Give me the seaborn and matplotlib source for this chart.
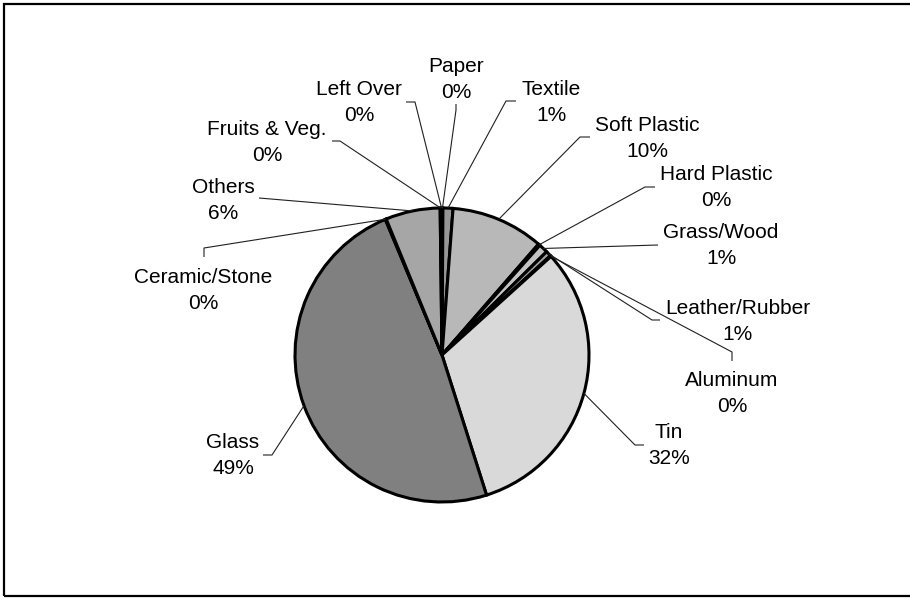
import matplotlib
matplotlib.use("Agg")
import matplotlib.pyplot as plt
import seaborn as sns
import numpy as np
from matplotlib.patches import Rectangle

# ---- data (percent of total) ----
categories = ["Paper", "Textile", "Soft Plastic", "Hard Plastic", "Grass/Wood",
              "Leather/Rubber", "Aluminum", "Tin", "Glass", "Ceramic/Stone",
              "Others", "Fruits & Veg.", "Left Over"]
values = [0.1, 1.1, 10.2, 0.2, 1.0, 0.6, 0.1, 31.8, 48.6, 0.1, 6.0, 0.1, 0.1]
colors = ["#8c8c8c", "#969696", "#b8b8b8", "#cccccc", "#c4c4c4", "#a0a0a0",
          "#e0e0e0", "#d9d9d9", "#808080", "#c0c0c0", "#a6a6a6", "#9a9a9a", "#b0b0b0"]

# ---- layout (pixels in a 910x604 canvas) ----
W, H = 910, 604
CX, CY, R = 442, 355, 147
# label centre (first line y), elbow, stub end
label_pos = {
    "Paper":          ((456, 64),  (456, 110), (456, 104)),
    "Textile":        ((551, 87),  (506, 101), (516, 101)),
    "Soft Plastic":   ((647, 123), (580, 137), (590, 137)),
    "Hard Plastic":   ((716, 172), (645, 187), (655, 187)),
    "Grass/Wood":     ((721, 230), (658, 245), (658, 245)),
    "Leather/Rubber": ((738, 306), (652, 320), (660, 320)),
    "Aluminum":       ((732, 378), (732, 352), (732, 361)),
    "Tin":            ((669, 430), (635, 445), (644, 445)),
    "Glass":          ((233, 440), (272, 455), (263, 455)),
    "Ceramic/Stone":  ((203, 275), (204, 248), (204, 257)),
    "Others":         ((223, 185), (259, 198), (259, 198)),
    "Fruits & Veg.":  ((267, 127), (340, 141), (332, 141)),
    "Left Over":      ((359, 87),  (415, 102), (406, 102)),
}


def px(p):
    return ((p[0] - CX) / R, (CY - p[1]) / R)


sns.set_theme(style="white")
plt.rcParams["font.family"] = ["Liberation Sans", "DejaVu Sans"]

fig = plt.figure(figsize=(W / 100, H / 100), dpi=100)
ax = fig.add_axes([0, 0, 1, 1])

wedges, _ = ax.pie(values, colors=colors, startangle=90, counterclock=False,
                   radius=1, center=(0, 0),
                   wedgeprops=dict(edgecolor="black", linewidth=2.2))
ax.set_xlim(-CX / R, (W - CX) / R)
ax.set_ylim(-(H - CY) / R, CY / R)
ax.axis("off")

for cat, val, w in zip(categories, values, wedges):
    mid = np.deg2rad((w.theta1 + w.theta2) / 2)
    x0, y0 = np.cos(mid), np.sin(mid)
    (lx, ly), elbow, stub = label_pos[cat]
    ex, ey = px(elbow)
    sx, sy = px(stub)
    ax.plot([x0, ex, sx], [y0, ey, sy], color="#202020", lw=0.8,
            solid_capstyle="butt")
    tx, ty = px((lx, ly + 15.5))
    ax.text(tx, ty, f"{cat}\n{val:.0f}%", ha="center", va="center",
            fontsize=15, color="black", linespacing=1.45,
            multialignment="center")

fig.patches.append(Rectangle((4 / W, 8 / H), 2.0, 592 / H, transform=fig.transFigure,
                             fill=False, edgecolor="black", linewidth=1.6,
                             clip_on=False))

fig.savefig("out.png", dpi=100, facecolor="white")
